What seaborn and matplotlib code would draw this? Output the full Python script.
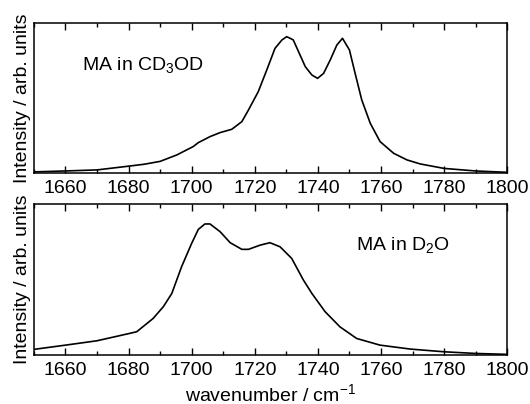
#!/usr/bin/env python3
import numpy as np
import pandas as pd
import matplotlib
matplotlib.use("Agg")
import matplotlib.pyplot as plt
from matplotlib.ticker import MultipleLocator, NullLocator
import seaborn as sns

# IR spectra (normalised intensities)
wn_cd3od = [1650, 1660, 1670, 1680, 1685, 1690, 1695.3, 1700.5, 1702.1, 1705.8, 1709,
            1712.7, 1715.9, 1718, 1721.1, 1723.8, 1726.4, 1728.6, 1730.1, 1731.2, 1732.2,
            1736, 1738.1, 1739.9, 1741.8, 1743.9, 1746, 1747.8, 1750, 1751.8, 1753.9,
            1756.6, 1759.7, 1764, 1768.2, 1772.4, 1780, 1790, 1800]
int_cd3od = [0.007, 0.013, 0.02, 0.045, 0.058, 0.077, 0.12, 0.176, 0.202, 0.242, 0.269,
             0.291, 0.342, 0.42, 0.542, 0.687, 0.831, 0.887, 0.909, 0.898, 0.887,
             0.709, 0.653, 0.631, 0.664, 0.753, 0.853, 0.898, 0.82, 0.664, 0.487,
             0.331, 0.209, 0.131, 0.087, 0.06, 0.03, 0.013, 0.004]

wn_d2o = [1650, 1660, 1670, 1680.4, 1682.6, 1687.8, 1691, 1693.7, 1696.8, 1700, 1702.1,
          1704.2, 1705.8, 1709, 1712.2, 1715.9, 1718, 1721.7, 1724.8, 1728, 1731.7,
          1735.4, 1738.1, 1742.3, 1747, 1752.3, 1759.7, 1769.3, 1780, 1790, 1800]
int_d2o = [0.038, 0.066, 0.095, 0.144, 0.155, 0.243, 0.32, 0.408, 0.585, 0.74, 0.832,
           0.868, 0.868, 0.817, 0.744, 0.7, 0.7, 0.728, 0.744, 0.717, 0.64,
           0.497, 0.408, 0.287, 0.187, 0.11, 0.066, 0.04, 0.022, 0.011, 0.005]

labels = ["MA in CD$_3$OD", "MA in D$_2$O"]
label_pos = [(0.101, 0.72), (0.68, 0.73)]


def style_axis(ax):
    ax.set_xlim(1650, 1800)
    ax.set_ylim(0, 1)
    ax.xaxis.set_major_locator(MultipleLocator(20))
    ax.xaxis.set_minor_locator(MultipleLocator(10))
    ax.yaxis.set_major_locator(NullLocator())
    ax.tick_params(axis="x", which="both", direction="in", top=True, bottom=True,
                   width=1, labelsize=14, pad=5, color="black", labelcolor="black")
    ax.tick_params(axis="x", which="major", length=5)
    ax.tick_params(axis="x", which="minor", length=3)
    for sp in ax.spines.values():
        sp.set_linewidth(1.1)
        sp.set_color("black")
        sp.set_visible(True)
    ax.set_ylabel("Intensity / arb. units", fontsize=14, labelpad=2, color="black")


def main():
    sns.set_style("ticks")
    plt.rcParams["font.family"] = ["Liberation Sans", "DejaVu Sans"]
    plt.rcParams["mathtext.fontset"] = "custom"
    plt.rcParams["mathtext.rm"] = "Liberation Sans"
    plt.rcParams["mathtext.it"] = "Liberation Sans"
    plt.rcParams["text.color"] = "black"

    fig = plt.figure(figsize=(5.30, 4.04), dpi=100)
    ax1 = fig.add_axes([0.064, 0.572, 0.893, 0.371])
    ax2 = fig.add_axes([0.064, 0.121, 0.893, 0.374])

    df1 = pd.DataFrame({"wn": wn_cd3od, "I": int_cd3od})
    df2 = pd.DataFrame({"wn": wn_d2o, "I": int_d2o})

    for ax, df, lab, pos in zip([ax1, ax2], [df1, df2], labels, label_pos):
        sns.lineplot(data=df, x="wn", y="I", ax=ax, color="black", linewidth=1.2)
        style_axis(ax)
        ax.set_xlabel("")
        ax.text(pos[0], pos[1], lab, transform=ax.transAxes, fontsize=14,
                ha="left", va="center", color="black")

    ax2.set_xlabel("wavenumber / cm$^{-1}$", fontsize=14, labelpad=3, color="black")

    fig.savefig("out.png", dpi=100)
    plt.close(fig)


if __name__ == "__main__":
    main()
